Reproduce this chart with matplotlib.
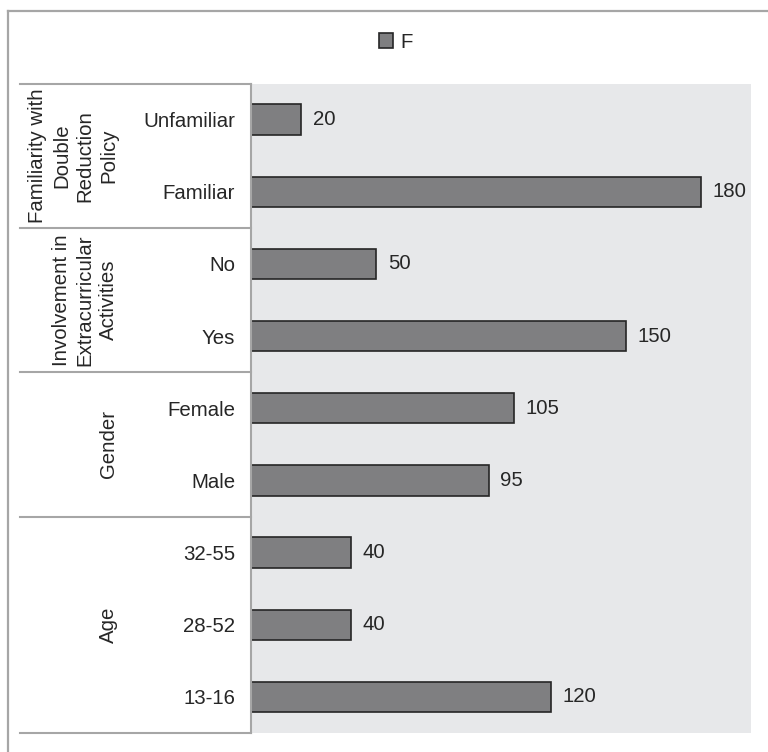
import matplotlib
matplotlib.use("Agg")
import matplotlib.pyplot as plt
from matplotlib.patches import Patch
from matplotlib.lines import Line2D
import matplotlib.transforms as mtransforms

plt.rcParams['font.family'] = ['Liberation Sans', 'DejaVu Sans']

# Data (top to bottom)
categories = ["Unfamiliar", "Familiar", "No", "Yes", "Female", "Male",
              "32-55", "28-52", "13-16"]
values = [20, 180, 50, 150, 105, 95, 40, 40, 120]
groups = ["Familiarity with\nDouble\nReduction\nPolicy",
          "Involvement in\nExtracurricular\nActivities",
          "Gender",
          "Age"]
group_sizes = [2, 2, 2, 3]
series_name = "F"

W, H = 768, 752
fig = plt.figure(figsize=(W / 100, H / 100), dpi=100)

bar_color = "#7f7f81"
edge_color = "#262626"
text_color = "#262626"
grid_gray = "#a6a6a6"
fs = 14.7

ax_l, ax_r, ax_t, ax_b = 251, 751, 83.5, 733
ax = fig.add_axes([ax_l / W, 1 - ax_b / H, (ax_r - ax_l) / W, (ax_b - ax_t) / H])
ax.set_facecolor("#e7e8ea")

y = list(range(len(categories)))
bars = ax.barh(y, values, height=0.42, color=bar_color, edgecolor=edge_color,
               linewidth=1.2)
ax.bar_label(bars, labels=[str(v) for v in values], padding=8.5,
             fontsize=fs, color=text_color)

ax.set_xlim(0, 200)
ax.set_ylim(len(categories) - 0.5, -0.5)
ax.set_xticks([])
ax.set_yticks(y)
ax.set_yticklabels(categories, fontsize=fs, color=text_color)
ax.tick_params(axis='y', length=0, pad=11.5)
for s in ["top", "right", "bottom"]:
    ax.spines[s].set_visible(False)
ax.spines["left"].set_color(grid_gray)
ax.spines["left"].set_linewidth(1.5)

# Group table: separators and rotated group labels
trans = mtransforms.blended_transform_factory(ax.transAxes, ax.transData)
x_table_left = (20 - ax_l) / (ax_r - ax_l)
x_group_text = (118 - ax_l) / (ax_r - ax_l)
start = -0.5
ax.plot([x_table_left, 0], [start, start], transform=trans, color=grid_gray,
        lw=1.5, clip_on=False)
for name, n in zip(groups, group_sizes):
    end = start + n
    ax.plot([x_table_left, 0], [end, end], transform=trans, color=grid_gray,
            lw=1.5, clip_on=False)
    ax.text(x_group_text, (start + end) / 2, name, transform=trans, rotation=90,
            ha='right', va='center', multialignment='center', fontsize=fs,
            color=text_color, linespacing=1.3)
    start = end

# Outer chart border
fig.add_artist(Line2D([8 / W, 8 / W], [0, 1 - 11 / H], transform=fig.transFigure,
                      color=grid_gray, lw=1.6))
fig.add_artist(Line2D([8 / W, 1], [1 - 11 / H, 1 - 11 / H], transform=fig.transFigure,
                      color=grid_gray, lw=1.6))

# Legend
handle = Patch(facecolor=bar_color, edgecolor=edge_color, linewidth=1.2)
fig.legend([handle], [series_name], loc='center',
           bbox_to_anchor=(396 / W, 1 - 42 / H), frameon=False, fontsize=fs,
           handlelength=0.7, handleheight=0.7, handletextpad=0.35,
           labelcolor=text_color)

fig.savefig("out.png", dpi=100, facecolor="white")
